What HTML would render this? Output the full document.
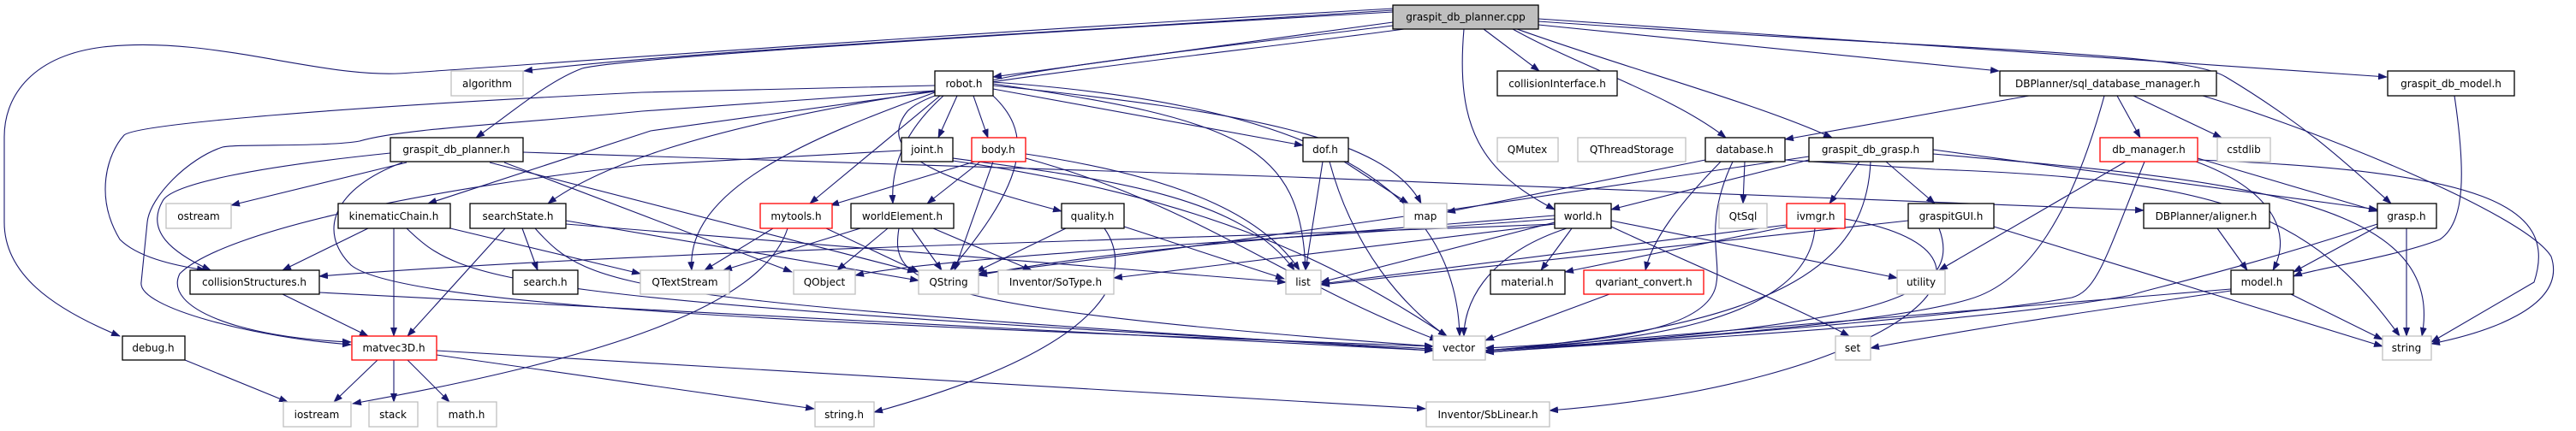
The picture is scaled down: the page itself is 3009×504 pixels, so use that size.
<!DOCTYPE html>
<html><head><meta charset="utf-8"><style>
html,body{margin:0;padding:0;background:#fff;}
svg{display:block;}
text{font-family:"DejaVu Sans","Liberation Sans",sans-serif;font-size:12px;fill:#000;text-anchor:middle;}
.e{fill:none;stroke:#191970;stroke-width:1.1;marker-end:url(#a);}
.b{fill:#fff;stroke:#000;stroke-width:1.3;}
.g{fill:#fff;stroke:#bfbfbf;stroke-width:1.3;}
.r{fill:#fff;stroke:#ff0000;stroke-width:1.3;}
</style></head><body>
<svg width="3009" height="504" viewBox="0 0 3009 504" xmlns="http://www.w3.org/2000/svg">
<defs><marker id="a" markerWidth="11" markerHeight="8" refX="10" refY="4" orient="auto" markerUnits="userSpaceOnUse"><path d="M0,0 L11,4 L0,8 z" fill="#191970"/></marker></defs>
<g>
<!-- cpp edges -->
<path class="e" d="M1627,12 C1200,40 800,60 612,83"/>
<path class="e" d="M1627,10 C1100,40 700,70 480,85 C380,95 250,40 120,55 C40,65 5,110 5,160 L5,260 C5,320 60,360 140,393"/>
<path class="e" d="M1627,14 C1000,50 720,70 680,80 C640,95 600,130 556,161"/>
<path class="e" d="M1640,34 C1300,80 800,120 640,238"/>
<path class="e" d="M1627,26 L1160,90"/>
<path class="e" d="M1627,30 C1300,70 1100,90 1060,130 C1020,180 1100,210 1240,247"/>
<path class="e" d="M1710,34 C1700,150 1730,200 1816,245"/>
<path class="e" d="M1733,34 L1798,83"/>
<path class="e" d="M1767,34 C1850,80 1950,110 2016,161"/>
<path class="e" d="M1772,34 C1900,80 2050,120 2140,161"/>
<path class="e" d="M1797,29 L2335,83"/>
<path class="e" d="M1797,22 L2788,90"/>
<path class="e" d="M1797,25 C2300,60 2550,60 2600,90 C2700,150 2750,200 2793,238"/>
<!-- robot -->
<path class="e" d="M1092,100 L750,108 C400,125 160,145 145,158 C125,180 110,230 140,280 C160,300 200,310 240,316"/>
<path class="e" d="M1092,106 L750,130 C600,145 470,150 420,165 C380,172 280,168 260,172 C220,185 175,230 172,260 L165,330 C160,360 300,395 410,403"/>
<path class="e" d="M1092,107 L760,153 L500,238"/>
<path class="e" d="M1118,112 L1096,161"/>
<path class="e" d="M1137,112 L1154,161"/>
<path class="e" d="M1098,112 L946,238"/>
<path class="e" d="M1102,112 C1060,150 1040,190 1043,238"/>
<path class="e" d="M1160,112 C1200,150 1210,200 1110,316"/>
<path class="e" d="M1092,108 C950,160 800,220 808,316"/>
<path class="e" d="M1160,104 L1522,170"/>
<path class="e" d="M1160,100 C1450,130 1620,160 1660,238"/>
<path class="e" d="M1160,98 C1450,140 1520,170 1525,316"/>
<path class="e" d="M1160,96 C1500,120 1700,200 1705,393"/>
<!-- graspit_db_planner.h -->
<path class="e" d="M456,179 C300,195 200,215 190,235 C170,270 200,295 246,316"/>
<path class="e" d="M475,190 L270,240"/>
<path class="e" d="M470,190 C390,220 370,270 410,310 C470,360 1000,380 1674,405"/>
<path class="e" d="M611,178 L1510,207 L2504,246"/>
<path class="e" d="M572,190 L1070,318"/>
<path class="e" d="M589,190 L925,318"/>
<!-- joint -->
<path class="e" d="M1053,176 L750,193 C500,220 260,270 210,320 C190,360 280,395 410,400"/>
<path class="e" d="M1113,185 C1300,210 1450,230 1512,316"/>
<path class="e" d="M1113,188 C1400,230 1550,300 1690,393"/>
<!-- body -->
<path class="e" d="M1142,188 L970,240"/>
<path class="e" d="M1145,189 L1083,238"/>
<path class="e" d="M1160,189 L1115,316"/>
<path class="e" d="M1198,180 C1400,210 1480,260 1518,316"/>
<path class="e" d="M1198,185 C1400,240 1500,330 1680,398"/>
<!-- kinematicChain -->
<path class="e" d="M430,267 L330,316"/>
<path class="e" d="M460,267 L460,393"/>
<path class="e" d="M475,267 C540,330 580,350 1674,408"/>
<path class="e" d="M526,267 L748,320"/>
<!-- searchState -->
<path class="e" d="M610,267 L628,316"/>
<path class="e" d="M590,267 L476,393"/>
<path class="e" d="M625,267 C690,340 730,350 1674,410"/>
<path class="e" d="M661,258 L1073,328"/>
<path class="e" d="M661,262 L1502,330"/>
<!-- collisionStructures -->
<path class="e" d="M330,344 L430,393"/>
<path class="e" d="M373,342 L1674,410"/>
<!-- matvec3D -->
<path class="e" d="M441,421 L390,470"/>
<path class="e" d="M460,421 L460,470"/>
<path class="e" d="M476,421 L525,470"/>
<path class="e" d="M510,415 L951,478"/>
<path class="e" d="M510,410 L1665,478"/>
<path class="e" d="M216,421 L336,470"/>
<!-- mytools -->
<path class="e" d="M920,267 C890,360 700,420 412,472"/>
<path class="e" d="M903,267 L823,316"/>
<path class="e" d="M965,267 L1073,318"/>
<!-- worldElement -->
<path class="e" d="M1005,267 L845,316"/>
<path class="e" d="M1037,267 L978,316"/>
<path class="e" d="M1065,267 L1100,316"/>
<path class="e" d="M1090,267 L1205,316"/>
<path class="e" d="M1050,267 C1040,330 1060,360 1674,405"/>
<!-- quality -->
<path class="e" d="M1245,267 L1140,318"/>
<path class="e" d="M1313,265 L1500,326"/>
<path class="e" d="M1290,267 C1320,310 1320,400 1021,482"/>
<!-- dof -->
<path class="e" d="M1570,189 L1645,238"/>
<path class="e" d="M1545,189 L1525,316"/>
<path class="e" d="M1553,189 C1580,290 1640,360 1690,393"/>
<!-- world -->
<path class="e" d="M1816,260 L1543,330"/>
<path class="e" d="M1816,252 C1600,270 1300,290 1143,322"/>
<path class="e" d="M1816,256 C1500,280 1100,300 999,322"/>
<path class="e" d="M1836,267 L1800,316"/>
<path class="e" d="M1830,267 C1730,300 1710,360 1710,393"/>
<path class="e" d="M1882,265 C2000,320 2100,360 2160,393"/>
<path class="e" d="M1882,258 L2216,325"/>
<path class="e" d="M1816,262 L1301,325"/>
<path class="e" d="M1816,262 C1400,280 800,290 373,323"/>
<!-- database -->
<path class="e" d="M1992,187 L1690,248"/>
<path class="e" d="M2038,189 L2036,238"/>
<path class="e" d="M2010,189 C1960,240 1930,280 1922,316"/>
<path class="e" d="M2024,189 C1990,260 2010,300 2005,330 C2000,380 1900,400 1735,407"/>
<path class="e" d="M2085,187 L2260,198 C2600,210 2700,250 2803,393"/>
<!-- graspit_db_grasp -->
<path class="e" d="M2113,187 L1882,245"/>
<path class="e" d="M2172,189 L2137,238"/>
<path class="e" d="M2185,189 C2180,300 2100,380 1735,410"/>
<path class="e" d="M2203,189 L2260,238"/>
<path class="e" d="M2113,183 C1800,230 1400,290 1143,320"/>
<path class="e" d="M2258,175 L2777,245"/>
<path class="e" d="M2258,180 C2600,210 2860,230 2829,393"/>
<!-- ivmgr -->
<path class="e" d="M2087,263 L1543,332"/>
<path class="e" d="M2087,265 L1828,318"/>
<path class="e" d="M2120,267 C2110,380 1900,400 1735,410"/>
<path class="e" d="M2155,256 C2400,300 2200,450 1810,480"/>
<!-- graspitGUI -->
<path class="e" d="M2229,258 L1543,333"/>
<path class="e" d="M2265,267 C2300,360 2150,380 1735,412"/>
<path class="e" d="M2329,265 L2783,405"/>
<path class="e" d="M1880,344 L1735,398"/>
<!-- sql_database_manager -->
<path class="e" d="M2370,112 L2085,163"/>
<path class="e" d="M2473,112 L2500,161"/>
<path class="e" d="M2492,112 L2595,161"/>
<path class="e" d="M2458,112 C2420,250 2370,330 2300,350 C2200,380 1900,400 1735,410"/>
<path class="e" d="M2573,112 C2700,150 2950,250 2980,300 C3000,360 2900,390 2840,402"/>
<path class="e" d="M2867,112 C2880,200 2880,260 2850,280 C2800,300 2700,315 2679,323"/>
<!-- db_manager -->
<path class="e" d="M2483,189 L2265,316"/>
<path class="e" d="M2505,189 C2460,300 2450,340 2420,348 C2300,370 1900,400 1735,412"/>
<path class="e" d="M2567,185 L2777,247"/>
<path class="e" d="M2565,189 C2650,220 2680,270 2655,316"/>
<path class="e" d="M2567,187 C2900,200 2990,240 2960,330 L2840,400"/>
<path class="e" d="M2590,267 L2625,316"/>
<!-- grasp / model -->
<path class="e" d="M2777,265 L2679,318"/>
<path class="e" d="M2811,267 L2811,393"/>
<path class="e" d="M2777,262 C2600,320 2500,340 2490,345 C2300,380 1900,400 1735,412"/>
<path class="e" d="M2606,338 L1735,410"/>
<path class="e" d="M2676,344 L2783,397"/>
<path class="e" d="M2606,340 C2400,370 2300,385 2185,407"/>
</g>
<g>
<rect x="1627" y="6" width="170" height="28" fill="#bfbfbf" stroke="#000" stroke-width="1.3"/><text x="1712" y="24">graspit_db_planner.cpp</text>
<rect class="g" x="527" y="83" width="84" height="29"/><text x="569" y="102">algorithm</text>
<rect class="b" x="1092" y="83" width="68" height="29"/><text x="1126" y="102">robot.h</text>
<rect class="b" x="1749" y="83" width="140" height="29"/><text x="1819" y="102">collisionInterface.h</text>
<rect class="b" x="2336" y="83" width="253" height="29"/><text x="2462" y="102">DBPlanner/sql_database_manager.h</text>
<rect class="b" x="2789" y="83" width="148" height="29"/><text x="2863" y="102">graspit_db_model.h</text>

<rect class="b" x="456" y="161" width="155" height="28"/><text x="533" y="179">graspit_db_planner.h</text>
<rect class="b" x="1053" y="161" width="60" height="28"/><text x="1083" y="179">joint.h</text>
<rect class="r" x="1135" y="161" width="63" height="28"/><text x="1166" y="179">body.h</text>
<rect class="b" x="1522" y="161" width="53" height="28"/><text x="1548" y="179">dof.h</text>
<rect class="g" x="1749" y="161" width="71" height="28"/><text x="1784" y="179">QMutex</text>
<rect class="g" x="1843" y="161" width="126" height="28"/><text x="1906" y="179">QThreadStorage</text>
<rect class="b" x="1992" y="161" width="93" height="28"/><text x="2038" y="179">database.h</text>
<rect class="b" x="2113" y="161" width="145" height="28"/><text x="2185" y="179">graspit_db_grasp.h</text>
<rect class="r" x="2453" y="161" width="114" height="28"/><text x="2510" y="179">db_manager.h</text>
<rect class="g" x="2590" y="161" width="62" height="28"/><text x="2621" y="179">cstdlib</text>

<rect class="g" x="194" y="238" width="76" height="29"/><text x="232" y="257">ostream</text>
<rect class="b" x="395" y="238" width="131" height="29"/><text x="460" y="257">kinematicChain.h</text>
<rect class="b" x="549" y="238" width="112" height="29"/><text x="605" y="257">searchState.h</text>
<rect class="r" x="888" y="238" width="84" height="29"/><text x="930" y="257">mytools.h</text>
<rect class="b" x="994" y="238" width="120" height="29"/><text x="1054" y="257">worldElement.h</text>
<rect class="b" x="1240" y="238" width="73" height="29"/><text x="1276" y="257">quality.h</text>
<rect class="g" x="1640" y="238" width="50" height="29"/><text x="1665" y="257">map</text>
<rect class="b" x="1816" y="238" width="66" height="29"/><text x="1849" y="257">world.h</text>
<rect class="g" x="2008" y="238" width="56" height="29"/><text x="2036" y="257">QtSql</text>
<rect class="r" x="2087" y="238" width="68" height="29"/><text x="2121" y="257">ivmgr.h</text>
<rect class="b" x="2229" y="238" width="100" height="29"/><text x="2279" y="257">graspitGUI.h</text>
<rect class="b" x="2504" y="238" width="147" height="29"/><text x="2577" y="257">DBPlanner/aligner.h</text>
<rect class="b" x="2777" y="238" width="69" height="29"/><text x="2811" y="257">grasp.h</text>

<rect class="b" x="222" y="316" width="151" height="28"/><text x="297" y="334">collisionStructures.h</text>
<rect class="b" x="599" y="316" width="76" height="28"/><text x="637" y="334">search.h</text>
<rect class="g" x="748" y="316" width="104" height="28"/><text x="800" y="334">QTextStream</text>
<rect class="g" x="927" y="316" width="72" height="28"/><text x="963" y="334">QObject</text>
<rect class="g" x="1073" y="316" width="70" height="28"/><text x="1108" y="334">QString</text>
<rect class="g" x="1166" y="316" width="135" height="28"/><text x="1233" y="334">Inventor/SoType.h</text>
<rect class="g" x="1502" y="316" width="41" height="28"/><text x="1522" y="334">list</text>
<rect class="b" x="1741" y="316" width="87" height="28"/><text x="1784" y="334">material.h</text>
<rect class="r" x="1850" y="316" width="140" height="28"/><text x="1920" y="334">qvariant_convert.h</text>
<rect class="g" x="2216" y="316" width="56" height="28"/><text x="2244" y="334">utility</text>
<rect class="b" x="2606" y="316" width="73" height="28"/><text x="2642" y="334">model.h</text>

<rect class="b" x="143" y="393" width="73" height="28"/><text x="179" y="411">debug.h</text>
<rect class="r" x="411" y="393" width="99" height="28"/><text x="460" y="411">matvec3D.h</text>
<rect class="g" x="1674" y="393" width="61" height="28"/><text x="1704" y="411">vector</text>
<rect class="g" x="2144" y="393" width="41" height="28"/><text x="2164" y="411">set</text>
<rect class="g" x="2783" y="393" width="57" height="28"/><text x="2811" y="411">string</text>

<rect class="g" x="331" y="470" width="79" height="29"/><text x="370" y="489">iostream</text>
<rect class="g" x="431" y="470" width="57" height="29"/><text x="459" y="489">stack</text>
<rect class="g" x="511" y="470" width="69" height="29"/><text x="545" y="489">math.h</text>
<rect class="g" x="952" y="470" width="69" height="29"/><text x="986" y="489">string.h</text>
<rect class="g" x="1666" y="470" width="144" height="29"/><text x="1738" y="489">Inventor/SbLinear.h</text>
</g>
</svg>
</body></html>
